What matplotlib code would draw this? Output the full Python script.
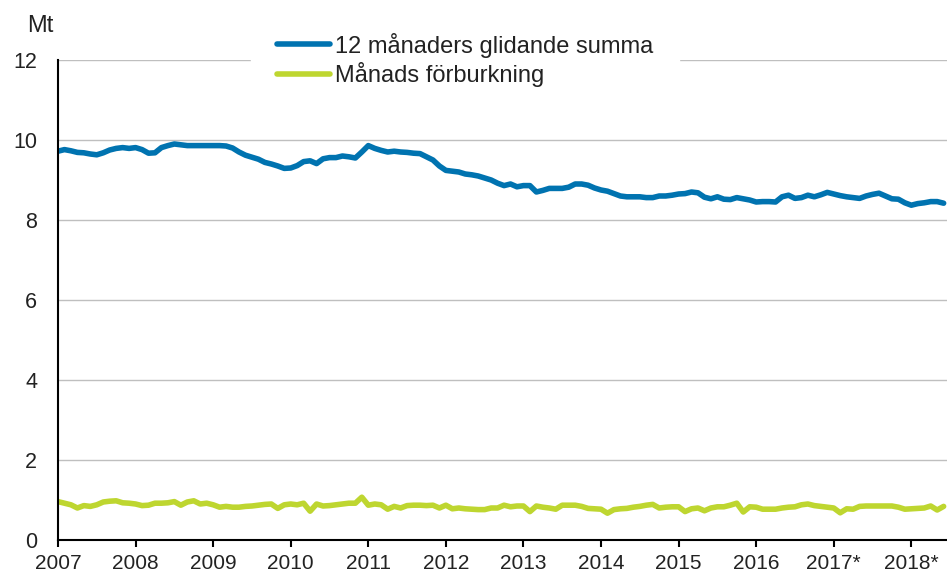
import matplotlib.pyplot as plt
import numpy as np

plt.rcParams['font.family'] = ['Liberation Sans', 'DejaVu Sans']

# monthly values, Jan 2007 - Jun 2018 (Mt)
glidande = [
    9.72, 9.76, 9.73, 9.69, 9.68, 9.65, 9.63, 9.68, 9.75, 9.79, 9.81, 9.79,
    9.81, 9.76, 9.67, 9.68, 9.81, 9.86, 9.90, 9.88, 9.86, 9.86, 9.86, 9.86,
    9.86, 9.86, 9.85, 9.80, 9.70, 9.62, 9.57, 9.52, 9.44, 9.40, 9.35, 9.29,
    9.30, 9.36, 9.46, 9.48, 9.41, 9.53, 9.56, 9.56, 9.60, 9.58, 9.55, 9.70,
    9.86, 9.79, 9.74, 9.70, 9.72, 9.70, 9.69, 9.67, 9.66, 9.58, 9.50, 9.35,
    9.24, 9.22, 9.20, 9.15, 9.13, 9.10, 9.05, 9.00, 8.92, 8.86, 8.90, 8.83,
    8.86, 8.86, 8.70, 8.74, 8.79, 8.79, 8.79, 8.82, 8.90, 8.90, 8.87, 8.80,
    8.75, 8.72, 8.66, 8.60, 8.58, 8.58, 8.58, 8.56, 8.56, 8.60, 8.60, 8.62,
    8.65, 8.66, 8.70, 8.68, 8.57, 8.53, 8.58, 8.52, 8.51, 8.56, 8.53, 8.50,
    8.45, 8.46, 8.46, 8.45, 8.58, 8.62, 8.54, 8.56, 8.62, 8.58, 8.63, 8.69,
    8.65, 8.61, 8.58, 8.56, 8.54, 8.60, 8.64, 8.67, 8.60, 8.53, 8.52, 8.43,
    8.37, 8.41, 8.43, 8.46, 8.46, 8.42,
]
manad = [
    0.96, 0.92, 0.88, 0.80, 0.86, 0.84, 0.88, 0.95, 0.97, 0.98, 0.93, 0.92,
    0.90, 0.86, 0.87, 0.92, 0.92, 0.93, 0.96, 0.87, 0.95, 0.98, 0.90, 0.92,
    0.88, 0.82, 0.84, 0.82, 0.82, 0.84, 0.85, 0.87, 0.89, 0.90, 0.79, 0.88,
    0.90, 0.88, 0.92, 0.72, 0.90, 0.85, 0.86, 0.88, 0.90, 0.92, 0.92, 1.07,
    0.87, 0.90, 0.88, 0.77, 0.84, 0.80, 0.86, 0.87, 0.87, 0.86, 0.87, 0.80,
    0.87, 0.78, 0.80, 0.78, 0.77, 0.76, 0.76, 0.80, 0.80, 0.87, 0.83, 0.85,
    0.85, 0.71, 0.85, 0.82, 0.80, 0.77, 0.87, 0.87, 0.87, 0.84, 0.79, 0.78,
    0.77, 0.67, 0.76, 0.78, 0.79, 0.82, 0.84, 0.87, 0.89, 0.80, 0.82, 0.83,
    0.83, 0.71, 0.78, 0.80, 0.73, 0.80, 0.83, 0.83, 0.87, 0.92, 0.70, 0.83,
    0.82, 0.77, 0.77, 0.77, 0.80, 0.82, 0.83, 0.88, 0.90, 0.86, 0.84, 0.82,
    0.80, 0.68, 0.78, 0.77, 0.84, 0.85, 0.85, 0.85, 0.85, 0.85, 0.82, 0.77,
    0.78, 0.79, 0.80, 0.85, 0.75, 0.84,
]
years = list(range(2007, 2019))
year_labels = ['2007', '2008', '2009', '2010', '2011', '2012', '2013',
               '2014', '2015', '2016', '2017*', '2018*']

t = 2007 + np.arange(len(glidande)) / 12

fig = plt.figure(figsize=(9.47, 5.75), dpi=100)
ax = fig.add_axes([58/947, 35/575, 1 - 58/947, 480/575])

ax.plot(t, glidande, color='#0073B0', lw=4, solid_capstyle='round',
        label='12 månaders glidande summa')
ax.plot(t, manad, color='#BED630', lw=4, solid_capstyle='round',
        label='Månads förburkning')

ax.set_xlim(2007, 2018.46)
ax.set_ylim(0, 12)
ax.set_yticks(range(0, 13, 2))
ax.set_xticks(years)
ax.set_xticklabels(year_labels)
ax.grid(axis='y', color='#BFBFBF', lw=1)
ax.set_axisbelow(True)
for s in ['top', 'right']:
    ax.spines[s].set_visible(False)
for s in ['left', 'bottom']:
    ax.spines[s].set_color('black')
    ax.spines[s].set_linewidth(1.5)
ax.tick_params(axis='y', length=0, pad=15, labelsize=15.5, labelcolor='#222222')
ax.tick_params(axis='x', length=5, width=1.5, pad=5, labelsize=15,
               colors='black', labelcolor='#222222')

fig.text(27/947, 1 - 26/575, 'Mt', fontsize=17, color='#222222', va='center')

leg = ax.legend(loc='center', bbox_to_anchor=(465/947, 1 - 60/575),
                bbox_transform=fig.transFigure, fontsize=17,
                handlelength=2.25, handletextpad=0.2, labelspacing=0.2,
                borderpad=1.1, borderaxespad=0, frameon=True, fancybox=False,
                edgecolor='white', facecolor='white', framealpha=1)
for txt in leg.get_texts():
    txt.set_color('#222222')

fig.savefig('out.png', dpi=100)
